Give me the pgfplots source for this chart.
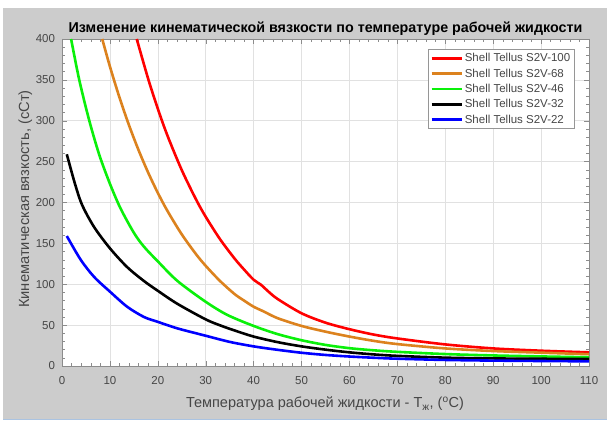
\documentclass[border=0pt]{standalone}
\usepackage{pgfplots}
\pgfplotsset{compat=1.18}
\usepackage{fontspec}
\setmainfont{Liberation Sans}
\definecolor{bggrey}{RGB}{204,204,204}
\definecolor{gridgrey}{RGB}{225,225,225}
\definecolor{axisgrey}{RGB}{140,140,140}
\definecolor{labgrey}{RGB}{70,70,70}
\definecolor{legedge}{RGB}{150,150,150}
\definecolor{morange}{RGB}{220,130,30}
\definecolor{mgreen}{RGB}{10,240,10}
\begin{document}
\begin{tikzpicture}
\useasboundingbox (0pt,0pt) rectangle (607pt,425pt);
\fill[white] (0pt,0pt) rectangle (607pt,425pt);
\fill[bggrey] (3pt,6pt) rectangle (607pt,417pt);
\draw[color={rgb,255:red,170;green,195;blue,225}, line width=1pt] (3pt,5.5pt) -- (607pt,5.5pt);
\begin{axis}[at={(62pt,59pt)}, anchor=south west, scale only axis,
  width=527pt, height=327pt,
  xmin=0, xmax=110, ymin=0, ymax=400,
  xtick={0,10,...,110}, ytick={0,50,...,400},
  minor x tick num=4, minor y tick num=4,
  tick align=inside, grid=major,
  major grid style={gridgrey, line width=0.6pt},
  axis line style={axisgrey},
  every tick/.style={axisgrey},
  major tick length=5pt, minor tick length=3pt,
  ticklabel style={font=\fontsize{11.5}{13}\selectfont, text=labgrey},
  xticklabel style={yshift=-7pt},
  yticklabel style={xshift=-3.5pt},
  /pgf/number format/assume math mode=true,
  axis background/.style={fill=white},
  legend cell align=left,
  legend style={at={(0.6945,0.969)}, anchor=north west,
    font=\fontsize{11.5}{13}\selectfont, text=labgrey, draw=legedge, fill=white,
    inner xsep=2pt, inner ysep=2pt, row sep=1.5pt,
    nodes={inner sep=2pt}},
  legend image code/.code={\draw[#1, line width=2.6pt] (0pt,0pt) -- (30pt,0pt);},
  every axis plot/.append style={line width=2.6pt, line join=round, smooth, tension=0.5},
]
\addplot[red] coordinates {(15.6,400)(18,351)(20,314.7)(22,282)(25,239.6)(28,203.5)(30,182.5)(33,155)(36,131.6)(38,118)(40,105.5)(41.5,99.5)(43,91.5)(45,82)(50,64.5)(55,53)(60,45)(65,38.5)(70,33.7)(80,26.4)(90,21.5)(100,18.7)(110,16.7)};
\addlegendentry{Shell Tellus S2V-100}
\addplot[morange] coordinates {(8.4,400)(10,366.4)(12,328.4)(14,294.3)(16,263.8)(18,236.4)(20,211.8)(22,189.8)(25,161)(28,136.6)(30,122.5)(33,103.9)(36,88.1)(38,80)(40,72.5)(42,67)(45,58.5)(50,49)(55,42)(60,36)(65,30.8)(70,26.8)(80,21.5)(90,18.3)(100,16.3)(110,14.4)};
\addlegendentry{Shell Tellus S2V-68}
\addplot[mgreen] coordinates {(1.9,400)(3.6,350)(5.7,300)(7.8,258)(10,223)(12.2,193)(15,163)(17.1,146)(20,128)(24.1,104)(30,78.5)(34.5,62.5)(40,49)(45,39)(50,31.5)(55,25.8)(60,21.8)(65,19.2)(70,17.3)(80,14.6)(90,12.9)(100,11.7)(110,10.6)};
\addlegendentry{Shell Tellus S2V-46}
\addplot[black] coordinates {(1,259)(2.7,223)(4.2,197)(6.7,170)(10,144)(13.6,121)(17.1,104)(20,92)(24.1,76)(30,57)(33.1,49.5)(36,43.5)(40,36)(45,29.2)(50,24)(55,20)(60,16.7)(65,14.2)(70,12.4)(80,10.2)(90,9.25)(100,8.85)(110,8.5)};
\addlegendentry{Shell Tellus S2V-32}
\addplot[blue] coordinates {(1,159)(3.9,130)(6.7,109)(10,91)(13.6,72.5)(17.1,60)(20,54)(24.1,46)(30,37)(35,29.5)(40,24)(45,19.8)(50,16.2)(55,13.5)(60,11.6)(65,10.1)(70,8.9)(80,7.4)(90,6.6)(100,6.1)(110,5.7)};
\addlegendentry{Shell Tellus S2V-22}
\end{axis}
\node[anchor=base, font=\bfseries\fontsize{14.3}{16}\selectfont] at (325.5pt,392pt) {Изменение кинематической вязкости по температуре рабочей жидкости};
\node[anchor=base, font=\fontsize{14.5}{16}\selectfont, text=labgrey] at (325pt,17pt) {Температура рабочей жидкости - Т\textsubscript{ж}, (\textsuperscript{o}C)};
\node[anchor=base, rotate=90, font=\fontsize{14.7}{16}\selectfont, text=labgrey] at (29pt,226pt) {Кинематическая вязкость, (сСт)};
\end{tikzpicture}
\end{document}
